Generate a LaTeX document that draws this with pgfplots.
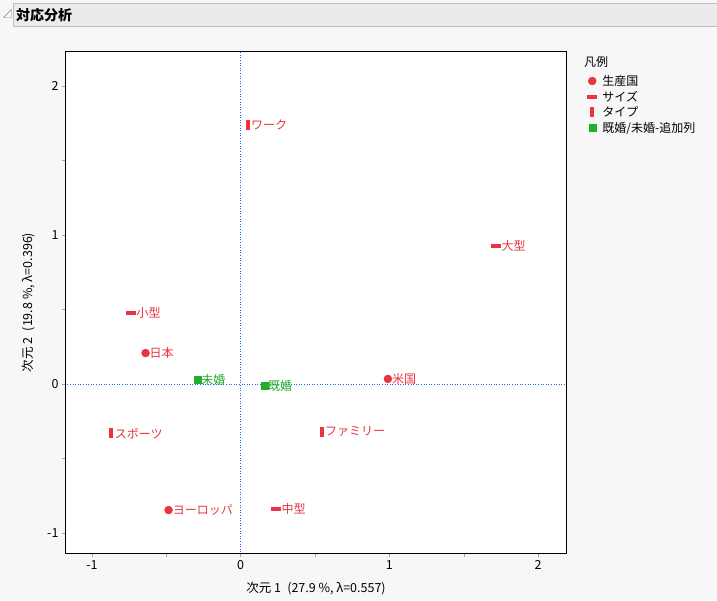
\documentclass[border=0pt]{standalone}
\usepackage{pgfplots}
\pgfplotsset{compat=1.18}
\usepackage{fontspec}
\setmainfont{Noto Sans CJK JP}
\definecolor{jred}{HTML}{EA3440}
\definecolor{jgreen}{HTML}{22B02C}
\definecolor{jgtext}{HTML}{20A828}
\definecolor{jblue}{HTML}{1F5CFF}
\definecolor{pagebg}{HTML}{F7F7F7}
\definecolor{barfill}{HTML}{EBEBEB}
\definecolor{bardraw}{HTML}{BDBDBD}
\newcommand\tf{\fontsize{12}{14}\selectfont}
% legend image: one mark, then a gap before the text
\pgfplotsset{ptleg/.style={legend image code/.code={%
  \path (0pt,0pt) (13pt,0pt);
  \draw[##1] plot coordinates {(4pt,0pt)};}}}

\begin{document}
\begin{tikzpicture}[x=1pt,y=1pt]
% origin = lower left corner of the axis box
\fill[pagebg] (-66,-47) rectangle (651,553);
% title bar
\fill[barfill] (-53,526) rectangle (651,550);
\draw[bardraw] (-52.5,526.5) -- (651,526.5) (-52.5,526.5) -- (-52.5,549.5) -- (651,549.5);
\draw[gray] (-62.5,535.5) -- (-54.5,535.5) -- (-54.5,543.5) -- cycle;
\node[anchor=west, inner sep=0pt, font=\fontsize{14}{16}\selectfont\bfseries] at (-50,538) {対応分析};
% legend title
\node[anchor=west, inner sep=0pt, font=\tf] at (518,491) {凡例};

\begin{axis}[
  anchor=south west,
  scale only axis, width=500pt, height=501pt,
  xmin=-1.175, xmax=2.188, ymin=-1.134, ymax=2.228,
  xtick={-1,0,1,2}, ytick={-1,0,1,2},
  minor tick num=1,
  tick align=outside, tick pos=left,
  major tick length=4pt, minor tick length=4pt,
  every tick/.style={gray!70},
  axis background/.style={fill=white},
  axis line style={black, line width=1pt},
  tick label style={font=\fontsize{12.5}{14}\selectfont},
  /pgf/number format/assume math mode=true,
  xlabel={次元 1\enspace(27.9 \%, λ=0.557)},
  ylabel={次元 2\enspace(19.8 \%, λ=0.396)},
  label style={font=\fontsize{12.5}{14}\selectfont},
  x label style={at={(axis description cs:0.5,-0.07)}, anchor=center},
  y label style={at={(axis description cs:-0.076,0.5)}, anchor=center},
  every node near coord/.append style={anchor=west, inner sep=0pt, font=\tf},
  legend style={at={(1.036,0.96)}, anchor=north west, draw=none, fill=none,
    font=\tf, row sep=2pt, nodes={inner sep=1pt}},
  legend cell align=left,
]
\addplot[jblue, line width=1pt, dash pattern=on 1pt off 1.6pt, forget plot]
  coordinates {(0,-1.2) (0,2.3)};
\addplot[jblue, line width=1pt, dash pattern=on 1pt off 1.6pt, forget plot]
  coordinates {(-1.2,0) (2.3,0)};

\addplot[only marks, mark=*, color=jred, mark size=4pt, ptleg,
  nodes near coords, point meta=explicit symbolic,
  every node near coord/.append style={xshift=4pt, text=jred}]
  coordinates {(-0.64,0.208) [日本] (0.99,0.034) [米国] (-0.485,-0.846) [ヨーロッパ]};
\addlegendentry{生産国}

\addplot[only marks, mark=-, color=jred, mark size=5pt, mark options={line width=4pt}, ptleg,
  nodes near coords, point meta=explicit symbolic,
  every node near coord/.append style={xshift=4pt, text=jred}]
  coordinates {(-0.74,0.477) [小型] (1.715,0.926) [大型] (0.235,-0.84) [中型]};
\addlegendentry{サイズ}

\addplot[only marks, mark=|, color=jred, mark size=5pt, mark options={line width=4pt}, ptleg,
  nodes near coords, point meta=explicit symbolic,
  every node near coord/.append style={xshift=1.5pt, text=jred}]
  coordinates {(0.047,1.738) [ワーク] (-0.87,-0.33) [スポーツ] (0.545,-0.32) [ファミリー]};
\addlegendentry{タイプ}

\addplot[only marks, mark=square*, color=jgreen, mark size=3.5pt, ptleg,
  nodes near coords, point meta=explicit symbolic,
  every node near coord/.append style={xshift=3.5pt, text=jgtext}]
  coordinates {(-0.29,0.027) [未婚] (0.16,-0.013) [既婚]};
\addlegendentry{既婚/未婚-追加列}
\end{axis}
\pgfresetboundingbox
\useasboundingbox (-66,-47) rectangle (651,553);
\end{tikzpicture}
\end{document}
